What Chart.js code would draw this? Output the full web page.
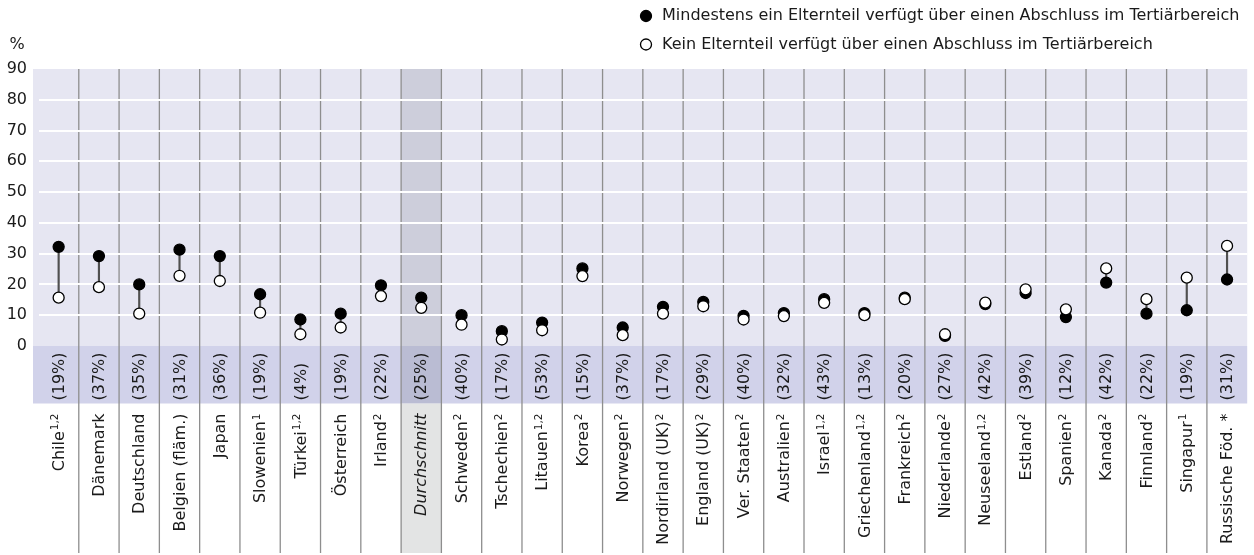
<!DOCTYPE html>
<html>
<head>
<meta charset="utf-8">
<script src="https://cdn.jsdelivr.net/npm/chart.js@4.4.1/dist/chart.umd.min.js"></script>
<style>
body { margin: 0; background: #fff; }
#wrap { width: 1254px; height: 555px; position: relative; }
</style>
</head>
<body>
<div id="wrap"><canvas id="chart"></canvas></div>
<script>
// categories, footnote markers and share of students (shown in brackets)
var countries = ['Chile', 'Dänemark', 'Deutschland', 'Belgien (fläm.)', 'Japan', 'Slowenien', 'Türkei', 'Österreich', 'Irland', 'Durchschnitt',
	'Schweden', 'Tschechien', 'Litauen', 'Korea', 'Norwegen', 'Nordirland (UK)', 'England (UK)', 'Ver. Staaten', 'Australien', 'Israel',
	'Griechenland', 'Frankreich', 'Niederlande', 'Neuseeland', 'Estland', 'Spanien', 'Kanada', 'Finnland', 'Singapur', 'Russische Föd. *'];
var notes = ['1,2', '', '', '', '', '1', '1,2', '', '2', '',
	'2', '2', '1,2', '2', '2', '2', '2', '2', '2', '1,2',
	'1,2', '2', '2', '1,2', '2', '2', '2', '2', '1', ''];
var shares = ['19%', '37%', '35%', '31%', '36%', '19%', '4%', '19%', '22%', '25%',
	'40%', '17%', '53%', '15%', '37%', '17%', '29%', '40%', '32%', '43%',
	'13%', '20%', '27%', '42%', '39%', '12%', '42%', '22%', '19%', '31%'];

// at least one parent with tertiary degree
var withDegree = [32.2, 29.2, 20.0, 31.3, 29.2, 16.8, 8.6, 10.5, 19.7, 15.7,
	10.0, 4.8, 7.6, 25.2, 6.0, 12.7, 14.3, 9.8, 10.7, 15.2,
	10.7, 15.7, 3.3, 13.6, 17.2, 9.4, 20.6, 10.5, 11.6, 21.6];
// no parent with tertiary degree
var withoutDegree = [15.7, 19.1, 10.5, 22.8, 21.1, 10.8, 3.8, 6.0, 16.2, 12.4,
	6.9, 2.1, 5.1, 22.7, 3.5, 10.5, 12.9, 8.6, 9.7, 14.0,
	10.0, 15.2, 3.8, 14.1, 18.4, 11.9, 25.2, 15.2, 22.2, 32.5];

var yTicks = [0, 10, 20, 30, 40, 50, 60, 70, 80, 90];
var legendLabels = ['Mindestens ein Elternteil verfügt über einen Abschluss im Tertiärbereich',
	'Kein Elternteil verfügt über einen Abschluss im Tertiärbereich'];

var FONT = '"DejaVu Sans", Verdana, sans-serif';
var avgIndex = countries.indexOf('Durchschnitt');

var backdrop = {
	id: 'backdrop',
	beforeDraw: function(chart)
	{
		var ctx = chart.ctx;
		var area = chart.chartArea;
		var x = chart.scales.x;
		var y = chart.scales.y;
		var y0 = y.getPixelForValue(0);
		var colW = x.getPixelForValue(1) - x.getPixelForValue(0);
		var left = area.left - 5.5;
		var bottom = chart.height - 2;

		ctx.save();
		ctx.fillStyle = '#e6e6f2';
		ctx.fillRect(left, area.top, area.right - left, y0 - area.top);
		ctx.fillStyle = '#d1d2ea';
		ctx.fillRect(left, y0, area.right - left, area.bottom - y0);

		// average column
		var ax = x.getPixelForValue(avgIndex) - colW / 2;
		ctx.fillStyle = '#cdcedb';
		ctx.fillRect(ax, area.top, colW, y0 - area.top);
		ctx.fillStyle = '#babcd3';
		ctx.fillRect(ax, y0, colW, area.bottom - y0);
		ctx.fillStyle = '#e3e4e4';
		ctx.fillRect(ax, area.bottom, colW, bottom - area.bottom);

		// column dividers
		ctx.strokeStyle = '#8e8e8e';
		ctx.lineWidth = 1.3;
		for (var i = 1; i < countries.length; i++)
		{
			var xx = x.getPixelForValue(i) - colW / 2;
			ctx.beginPath();
			ctx.moveTo(xx, area.top);
			ctx.lineTo(xx, bottom);
			ctx.stroke();
		}
		ctx.restore();
	},
	afterDraw: function(chart)
	{
		var ctx = chart.ctx;
		var area = chart.chartArea;
		var x = chart.scales.x;

		ctx.save();
		ctx.fillStyle = '#1a1a1a';
		ctx.textBaseline = 'middle';

		countries.forEach(function(name, i)
		{
			var xc = x.getPixelForValue(i) + 1;
			var italic = i == avgIndex ? 'italic ' : '';

			// share in brackets, inside the band
			ctx.save();
			ctx.translate(xc, area.bottom - 3);
			ctx.rotate(-Math.PI / 2);
			ctx.textAlign = 'left';
			ctx.font = '16px ' + FONT;
			ctx.fillText('(' + shares[i] + ')', 0, 0);
			ctx.restore();

			// country name with raised footnote markers
			ctx.save();
			ctx.translate(xc, area.bottom + 10);
			ctx.rotate(-Math.PI / 2);
			ctx.textAlign = 'left';
			ctx.font = italic + '16px ' + FONT;
			var wBase = ctx.measureText(name).width;
			ctx.font = '10.5px ' + FONT;
			var wSup = notes[i] ? ctx.measureText(notes[i]).width + 1 : 0;
			ctx.font = italic + '16px ' + FONT;
			ctx.fillText(name, -(wBase + wSup), 0);
			if (notes[i])
			{
				ctx.font = '10.5px ' + FONT;
				ctx.fillText(notes[i], -wSup + 1, -4);
			}
			ctx.restore();
		});

		// unit
		ctx.font = '16px ' + FONT;
		ctx.textAlign = 'center';
		ctx.fillText('%', 17, 45);

		// legend
		ctx.textAlign = 'left';
		ctx.font = '16px ' + FONT;
		legendLabels.forEach(function(label, i)
		{
			var ly = 16 + i * 28.5;
			ctx.beginPath();
			ctx.arc(646, ly, 5.5, 0, Math.PI * 2);
			ctx.fillStyle = i == 0 ? '#000' : '#fff';
			ctx.fill();
			ctx.lineWidth = 1.3;
			ctx.strokeStyle = '#000';
			ctx.stroke();
			ctx.fillStyle = '#1a1a1a';
			ctx.fillText(label, 662, ly);
		});
		ctx.restore();
	}
};

new Chart(document.getElementById('chart').getContext('2d'), {
	data: {
		labels: countries,
		datasets: [
			{
				type: 'bar',
				data: withDegree.map(function(v, i) { return [withoutDegree[i], v]; }),
				backgroundColor: '#505050',
				barThickness: 1.5,
				order: 3
			},
			{
				type: 'line',
				data: withDegree,
				showLine: false,
				pointRadius: 5.5,
				pointBackgroundColor: '#000',
				pointBorderColor: '#000',
				pointBorderWidth: 1.3,
				order: 2
			},
			{
				type: 'line',
				data: withoutDegree,
				showLine: false,
				pointRadius: 5.5,
				pointBackgroundColor: '#fff',
				pointBorderColor: '#000',
				pointBorderWidth: 1.3,
				order: 1
			}
		]
	},
	options: {
		responsive: true,
		maintainAspectRatio: false,
		animation: false,
		layout: { padding: { top: 69, right: 6.5, bottom: 151.5, left: 0 } },
		plugins: { legend: { display: false }, tooltip: { enabled: false } },
		scales: {
			x: {
				type: 'category',
				offset: true,
				display: false,
				grid: { display: false }
			},
			y: {
				min: -18.7,
				max: 90,
				afterFit: function(scale) { scale.width = 38.5; },
				afterBuildTicks: function(scale) { scale.ticks = yTicks.map(function(v) { return { value: v }; }); },
				border: { display: false },
				grid: {
					drawTicks: false,
					lineWidth: 2,
					color: function(c) { return c.tick && c.tick.value > 0 && c.tick.value < 90 ? '#ffffff' : 'rgba(0,0,0,0)'; }
				},
				ticks: {
					padding: 11.5,
					color: '#1a1a1a',
					font: { family: FONT, size: 16 }
				}
			}
		}
	},
	plugins: [backdrop]
});
</script>
</body>
</html>
